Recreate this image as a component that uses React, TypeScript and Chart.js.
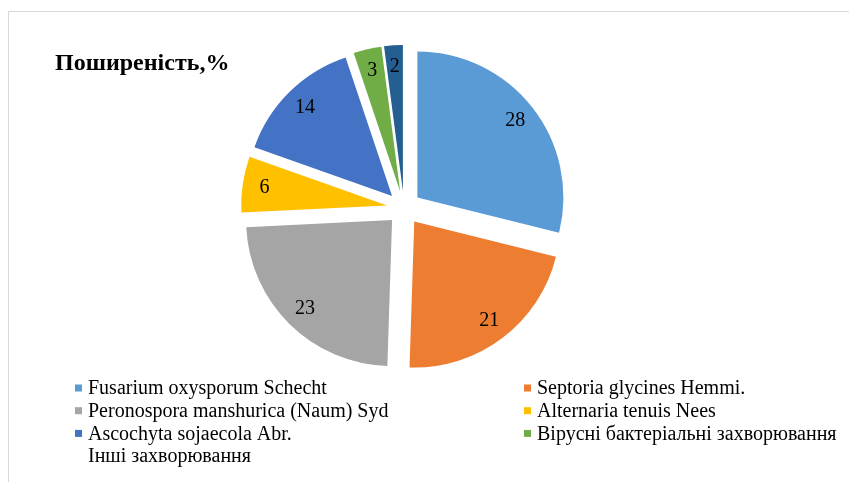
import React, { useEffect, useRef } from 'react';
import { Chart, registerables } from 'chart.js';

Chart.register(...registerables);

// ---- data ----
const chartTitle = 'Поширеність,%';
const categories = [
  'Fusarium oxysporum Schecht',
  'Septoria glycines Hemmi.',
  'Peronospora manshurica (Naum) Syd',
  'Alternaria tenuis Nees',
  'Ascochyta sojaecola Abr.',
  'Вірусні бактеріальні захворювання',
  'Інші захворювання',
];
const values = [28, 21, 23, 6, 14, 3, 2];
const colors = ['#5B9BD5', '#ED7D31', '#A5A5A5', '#FFC000', '#4472C4', '#70AD47', '#255E91'];
const legendMarkerShown = [true, true, true, true, true, true, false];

// ---- style ----
const FONT = "'Liberation Serif', 'Times New Roman', serif";
const EXPLODE = 17;
const LABEL_POS = 0.85;
const LEGEND_COL_X = [75, 524];
const LEGEND_ROW_Y0 = 388;
const LEGEND_ROW_STEP = 22.7;
const MARKER = 7;

const backgroundPlugin = {
  id: 'bgBorder',
  beforeDraw(chart: any) {
    const { ctx, width, height } = chart;
    ctx.save();
    ctx.fillStyle = '#ffffff';
    ctx.fillRect(0, 0, width, height);
    ctx.strokeStyle = '#D9D9D9';
    ctx.lineWidth = 1;
    ctx.strokeRect(8.5, 11.5, width + 40, height + 40);
    ctx.restore();
  },
};

const explodePlugin = {
  id: 'explodeArcs',
  beforeDatasetDraw(chart: any, args: any) {
    const { ctx } = chart;
    args.meta.data.forEach((arc: any) => {
      const mid = (arc.startAngle + arc.endAngle) / 2;
      ctx.save();
      ctx.translate(Math.cos(mid) * EXPLODE, Math.sin(mid) * EXPLODE);
      arc.draw(ctx);
      ctx.restore();
    });
    return false;
  },
  afterDraw(chart: any) {
    const { ctx } = chart;
    const meta = chart.getDatasetMeta(0);
    const data = chart.data.datasets[0].data;
    ctx.save();
    // data labels
    ctx.font = `20px ${FONT}`;
    ctx.fillStyle = '#000000';
    ctx.textAlign = 'center';
    ctx.textBaseline = 'middle';
    meta.data.forEach((arc: any, i: number) => {
      const mid = (arc.startAngle + arc.endAngle) / 2;
      const d = EXPLODE + arc.outerRadius * LABEL_POS;
      ctx.fillText(String(data[i]), arc.x + Math.cos(mid) * d, arc.y + Math.sin(mid) * d);
    });
    // title
    ctx.font = `bold 24px ${FONT}`;
    ctx.textAlign = 'left';
    ctx.fillText(chartTitle, 55, 64);
    // legend
    ctx.font = `20px ${FONT}`;
    const labels = chart.data.labels;
    const bg = chart.data.datasets[0].backgroundColor;
    labels.forEach((lab: string, i: number) => {
      const col = i % 2;
      const row = Math.floor(i / 2);
      const x = LEGEND_COL_X[col];
      const y = LEGEND_ROW_Y0 + row * LEGEND_ROW_STEP;
      if (legendMarkerShown[i]) {
        ctx.fillStyle = bg[i];
        ctx.fillRect(x, y - MARKER / 2, MARKER, MARKER);
      }
      ctx.fillStyle = '#000000';
      ctx.fillText(lab, x + 13, y + 1);
    });
    ctx.restore();
  },
};

export default function App() {
  const ref = useRef<HTMLCanvasElement | null>(null);
  useEffect(() => {
    if (!ref.current) return;
    const chart = new Chart(ref.current, {
      type: 'pie',
      data: {
        labels: categories,
        datasets: [
          {
            data: values,
            backgroundColor: colors,
            borderWidth: 0,
            hoverBorderWidth: 0,
            offset: 0,
            hoverOffset: 0,
          },
        ],
      },
      options: {
        animation: false,
        responsive: true,
        maintainAspectRatio: false,
        layout: { padding: { left: 258, right: 299, top: 62, bottom: 128 } },
        plugins: {
          legend: { display: false },
          title: { display: false },
          tooltip: { enabled: false },
        },
        events: [],
      },
      plugins: [backgroundPlugin, explodePlugin],
    });
    return () => chart.destroy();
  }, []);
  return (
    <div style={{ position: 'absolute', left: 0, top: 0, width: 849, height: 482, background: '#fff' }}>
      <canvas ref={ref} />
    </div>
  );
}
